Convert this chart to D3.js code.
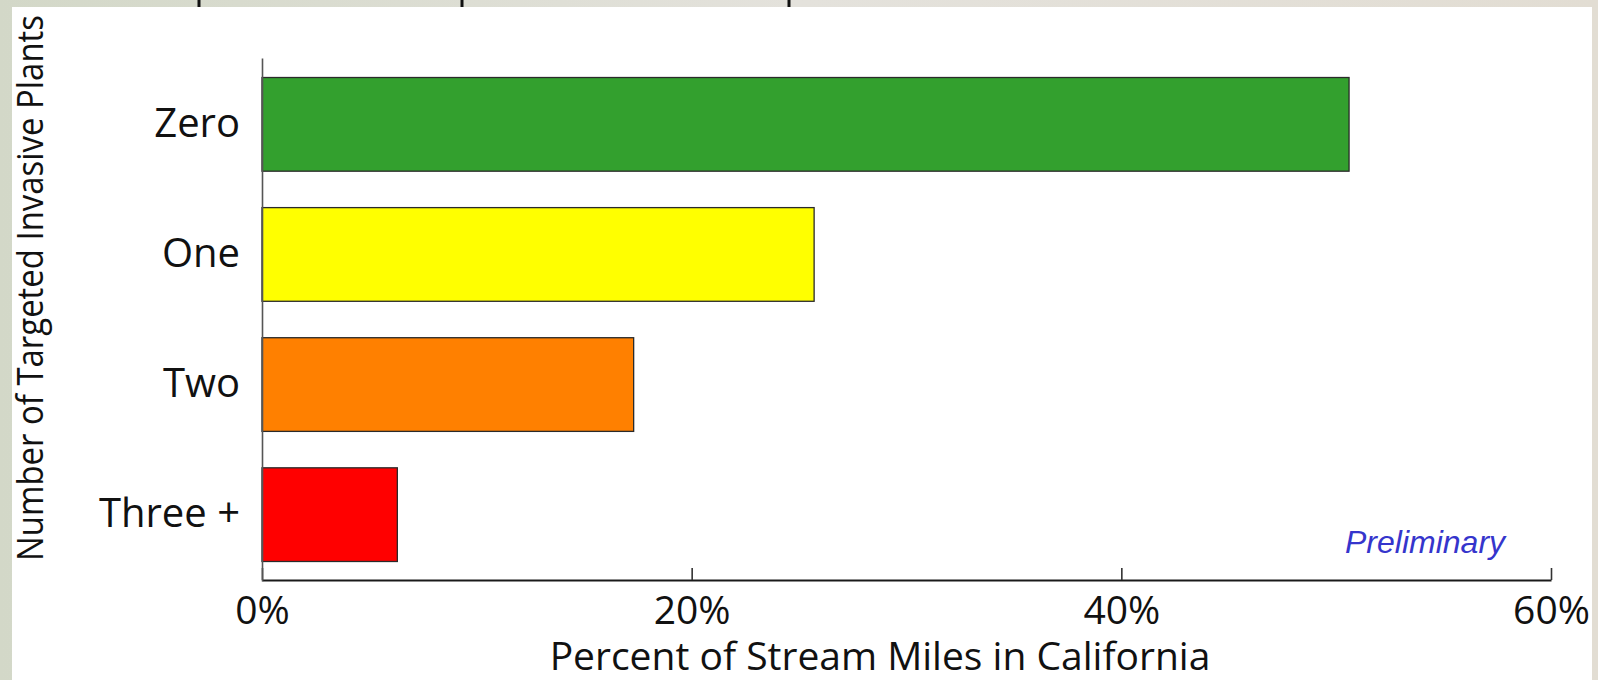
<!DOCTYPE html>
<html lang="en">
<head>
  <meta charset="UTF-8">
  <title>Targeted Invasive Plants</title>
  <style>
    body { margin: 0; background: #dddbd4; }
    svg { display: block; }
  </style>
</head>
<body>
  <svg id="svg" width="1598" height="680"></svg>
  <script src="https://d3js.org/d3.v7.min.js"></script>
  <script>
    // data
    const categories = ['Zero', 'One', 'Two', 'Three +']
    const percents = [50.6, 25.7, 17.3, 6.3]
    const xTicks = [0, 20, 40, 60]
    const barColors = ['#33a02e', '#ffff00', '#ff8000', '#ff0000']

    const svg = d3.select('#svg')

    // photo-ish backdrop edges, then white panel
    const bg = svg.append('defs').append('linearGradient')
      .attr('id', 'bg').attr('x1', 0).attr('x2', 1)
    bg.append('stop').attr('offset', '0%').attr('stop-color', '#d3d8c8')
    bg.append('stop').attr('offset', '50%').attr('stop-color', '#e4e2dc')
    bg.append('stop').attr('offset', '100%').attr('stop-color', '#e2ddd3')
    svg.append('rect').attr('width', 1598).attr('height', 680).attr('fill', 'url(#bg)')
    svg.selectAll('.mark')
      .data([199, 462, 789])
      .enter()
      .append('rect')
      .attr('x', d => d - 1.5).attr('y', 0)
      .attr('width', 3).attr('height', 8)
      .attr('fill', '#111')
    svg.append('rect')
      .attr('x', 12).attr('y', 7)
      .attr('width', 1580).attr('height', 673)
      .attr('fill', '#fff')

    const xScale = d3.scaleLinear()
      .domain([0, 60])
      .range([262, 1551])
    const yScale = d3.scaleBand()
      .domain(categories)
      .range([58, 581])
      .paddingInner(0.28)
      .paddingOuter(0.15)
    const colorScale = d3.scaleOrdinal()
      .domain(categories)
      .range(barColors)

    const rows = categories.map((c, i) => ({ cat: c, val: percents[i] }))

    svg.append('g')
      .selectAll('rect')
      .data(rows)
      .enter()
      .append('rect')
      .attr('x', xScale(0))
      .attr('y', d => yScale(d.cat))
      .attr('width', d => xScale(d.val) - xScale(0))
      .attr('height', yScale.bandwidth())
      .attr('fill', d => colorScale(d.cat))
      .attr('stroke', '#2a2a2a')
      .attr('stroke-width', 1.3)

    // axes
    const bottomAxis = d3.axisBottom(xScale)
      .tickValues(xTicks)
      .tickSize(-12)
      .tickSizeOuter(0)
      .tickPadding(16)
      .tickFormat(d => d + '%')
    const gx = svg.append('g')
      .attr('transform', 'translate(0, 580)')
      .call(bottomAxis)
    gx.select('.domain').attr('stroke', '#1a1a1a').attr('stroke-width', 2.2)
    gx.selectAll('.tick line').attr('stroke', '#333').attr('stroke-width', 1.6)
    gx.selectAll('.tick text')
      .style('font-family', '"Open Sans", sans-serif')
      .style('font-size', '39px')
      .attr('fill', '#111')

    const leftAxis = d3.axisLeft(yScale)
      .tickSize(0)
      .tickSizeOuter(0)
      .tickPadding(22)
    const gy = svg.append('g')
      .attr('transform', 'translate(262, 0)')
      .call(leftAxis)
    gy.select('.domain').attr('stroke', '#555').attr('stroke-width', 1.6)
    gy.selectAll('.tick text')
      .style('font-family', '"Open Sans", sans-serif')
      .style('font-size', '40px')
      .attr('fill', '#111')

    // titles
    svg.append('text')
      .text('Percent of Stream Miles in California')
      .attr('x', 880)
      .attr('y', 670)
      .attr('text-anchor', 'middle')
      .style('font-family', '"Open Sans", sans-serif')
      .style('font-size', '39px')
      .attr('fill', '#111')

    svg.append('text')
      .text('Number of Targeted Invasive Plants')
      .attr('transform', 'translate(43, 288) rotate(-90)')
      .attr('text-anchor', 'middle')
      .attr('textLength', 546)
      .attr('lengthAdjust', 'spacingAndGlyphs')
      .style('font-family', '"Open Sans", sans-serif')
      .style('font-size', '37px')
      .attr('fill', '#111')

    svg.append('text')
      .text('Preliminary')
      .attr('x', 1345)
      .attr('y', 553)
      .style('font-family', '"Liberation Sans", Arial, sans-serif')
      .style('font-style', 'italic')
      .style('font-size', '32px')
      .attr('fill', '#3535cc')
  </script>
</body>
</html>
